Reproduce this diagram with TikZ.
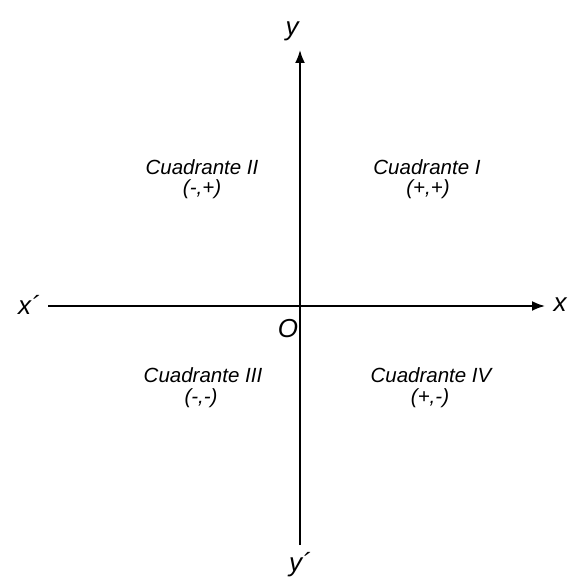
\documentclass[tikz,border=0pt]{standalone}
\usepackage{fontspec}
\setmainfont{Liberation Sans}
\usetikzlibrary{arrows.meta}
\begin{document}
\begin{tikzpicture}[x=1pt,y=-1pt,
  axis/.style={line width=1.8pt,-{Latex[length=13pt,width=10pt]}},
  quad/.style={anchor=base,font=\fontsize{20.5}{22}\selectfont\itshape},
  axlab/.style={anchor=base,font=\fontsize{26}{28}\selectfont\itshape}]
  \useasboundingbox (0,0) rectangle (587,577);
  % axes
  \coordinate (xl) at (48,306);
  \coordinate (xr) at (545,306);
  \coordinate (yb) at (300,545);
  \coordinate (yt) at (300,50);
  \draw[axis] (xl) -- (xr);
  \draw[axis] (yb) -- (yt);
  \node[axlab] (xlab)  at (560,312) {x};
  \node[axlab] (xplab) at (29,315) {x´};
  \node[axlab] (ylab)  at (292,36) {y};
  \node[axlab] (yplab) at (300,571) {y´};
  \node[axlab] (orig)  at (288,338) {O};
  % quadrants
  \node[quad] (q1)  at (427,175) {Cuadrante I};
  \node[quad] (q1s) at (428,195) {(+,+)};
  \node[quad] (q2)  at (202,175) {Cuadrante II};
  \node[quad] (q2s) at (202,195) {(-,+)};
  \node[quad] (q3)  at (203,383) {Cuadrante III};
  \node[quad] (q3s) at (201,404) {(-,-)};
  \node[quad] (q4)  at (431,383) {Cuadrante IV};
  \node[quad] (q4s) at (430,404) {(+,-)};
\end{tikzpicture}
\end{document}
